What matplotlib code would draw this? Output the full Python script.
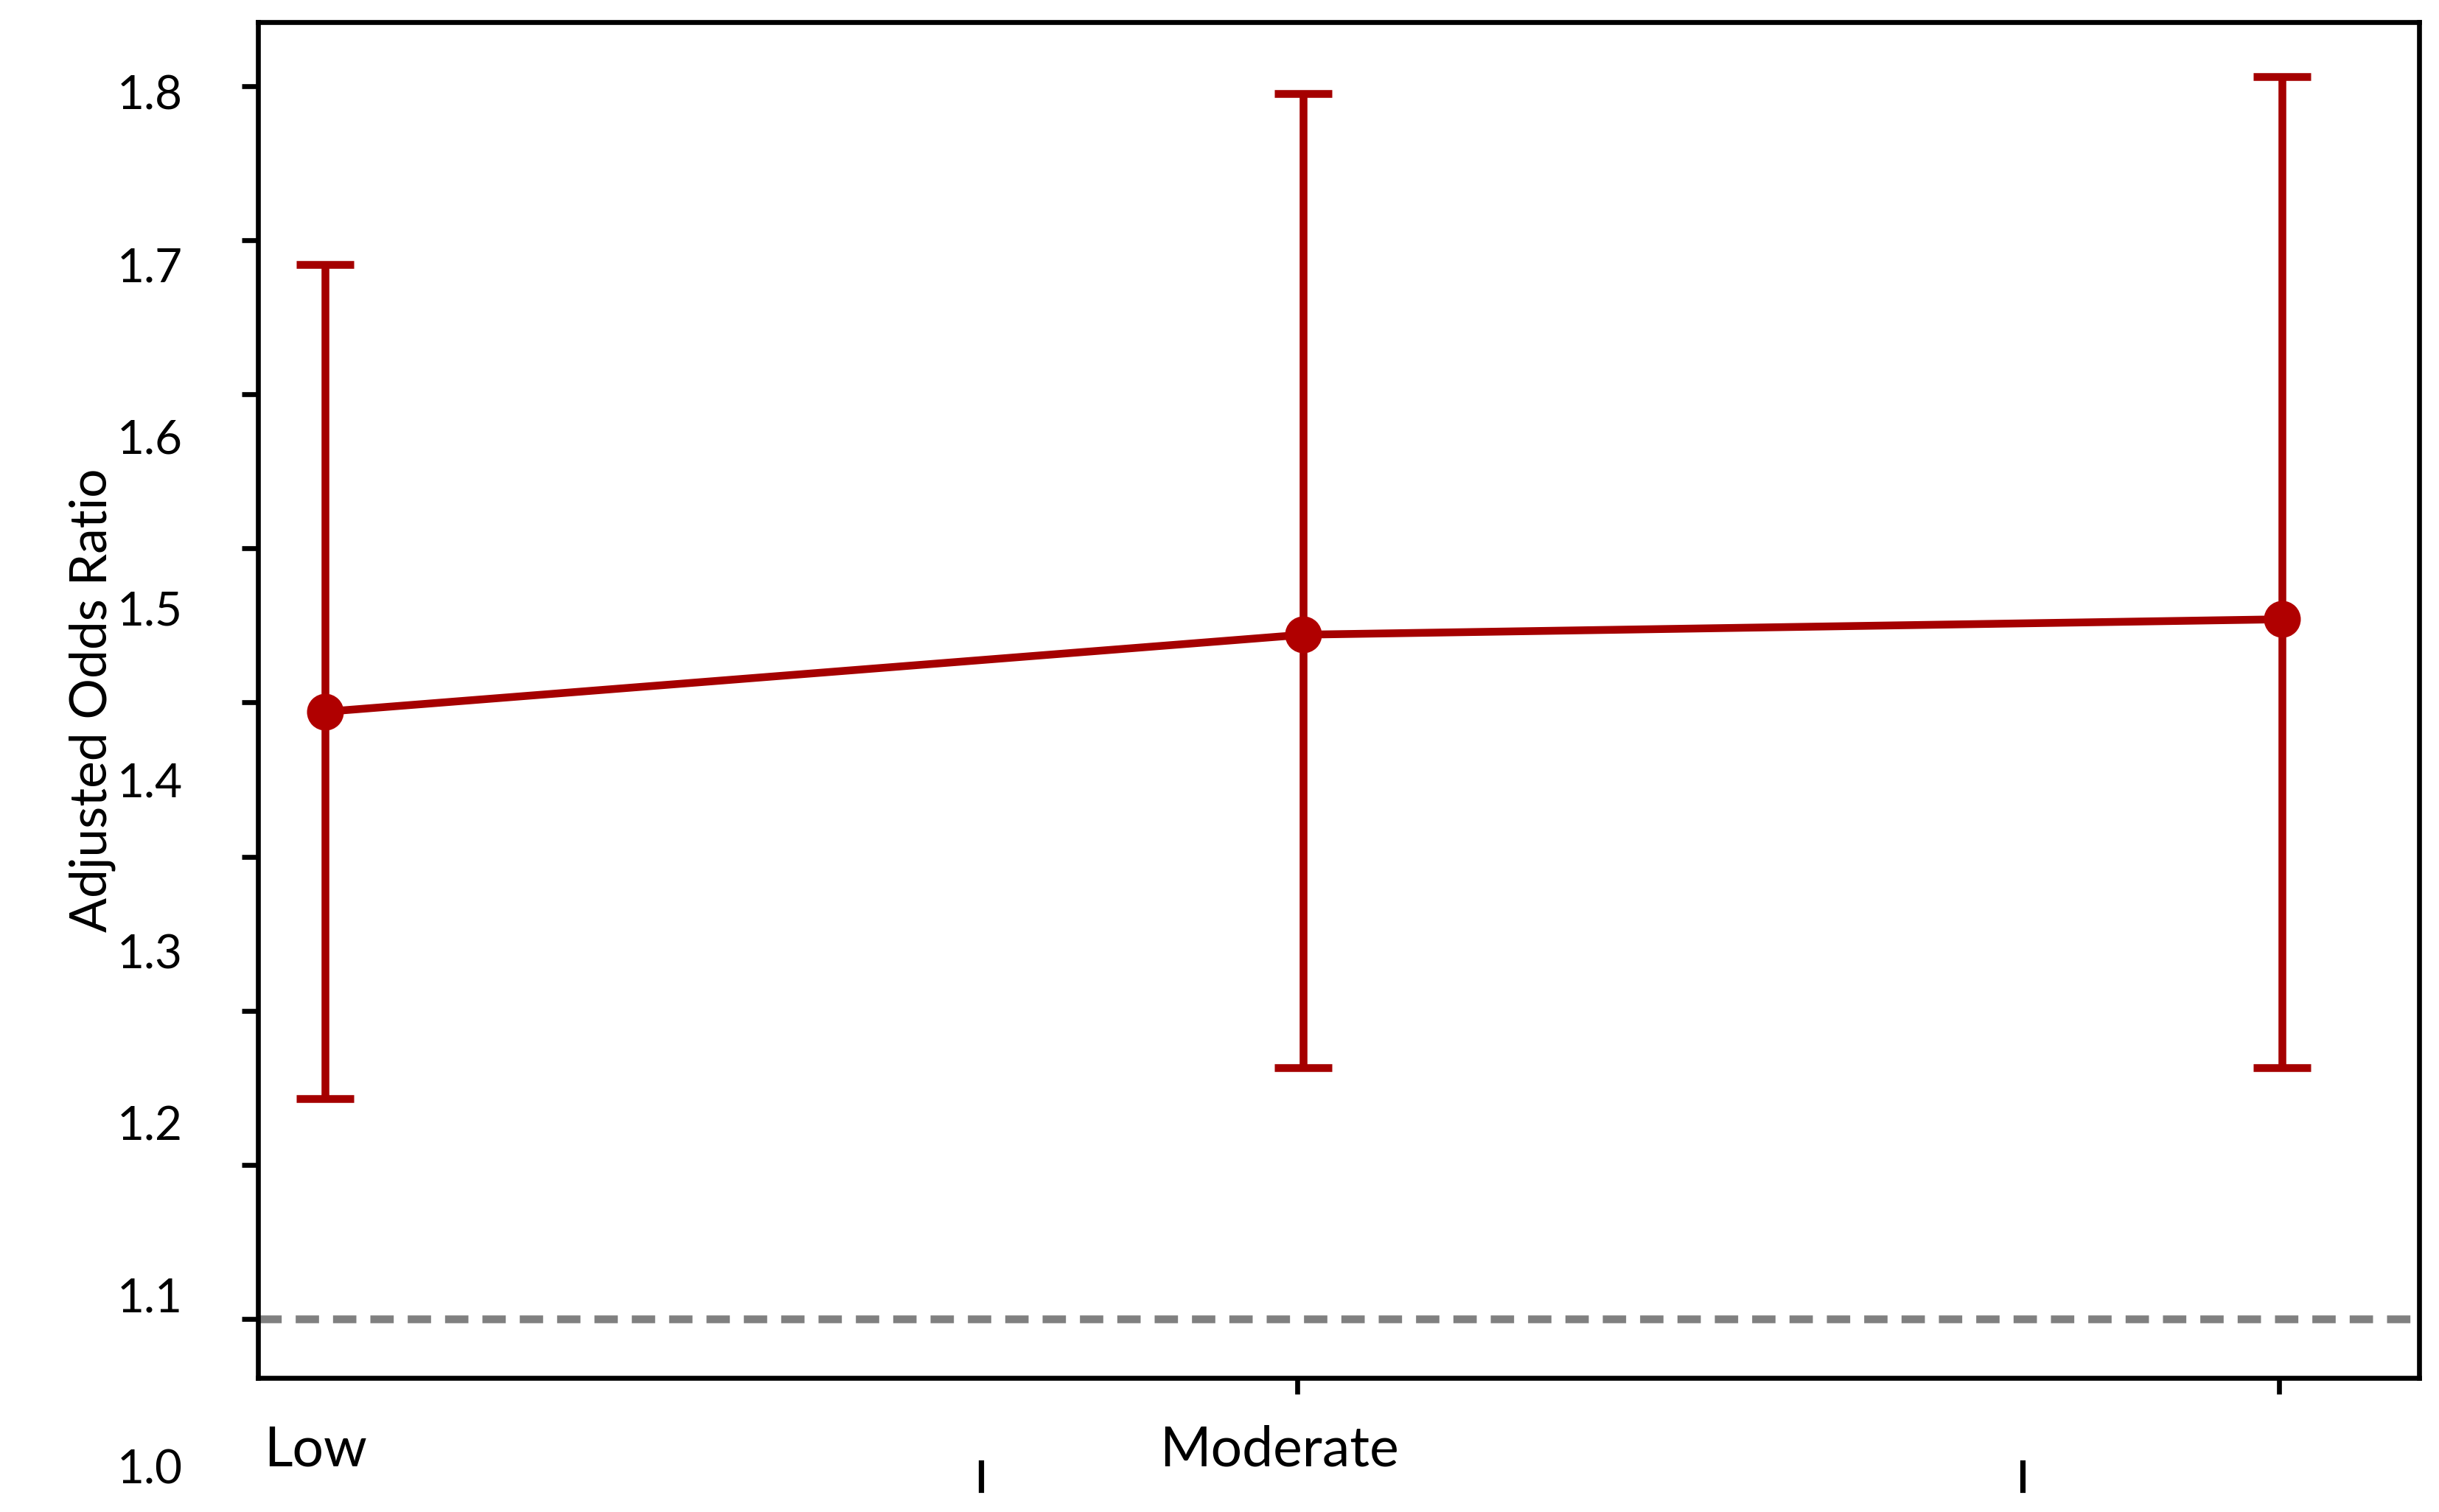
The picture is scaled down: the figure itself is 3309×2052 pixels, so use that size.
import matplotlib
matplotlib.use("Agg")
import matplotlib.pyplot as plt

plt.rcParams['font.family'] = ['Lato', 'DejaVu Sans']

# data
levels = ["Low", "Moderate", "High"]
odds = [1.394, 1.444, 1.454]
ci_low = [1.143, 1.163, 1.163]
ci_high = [1.684, 1.795, 1.806]
ref_line = 1.0
ytick_vals = [1.0, 1.1, 1.2, 1.3, 1.4, 1.5, 1.6, 1.7, 1.8]
ytick_texts = ["1.0", "1.1", "1.2", "1.3", "1.4", "1.5", "1.6", "1.7", "1.8"]

red = "#a50000"

fig = plt.figure(figsize=(16.545, 10.26), dpi=200)
ax = fig.add_axes([0.1059, 0.0885, 0.8858, 0.8971])

x = list(range(len(levels)))
yerr = [[o - l for o, l in zip(odds, ci_low)], [h - o for o, h in zip(odds, ci_high)]]
ax.errorbar(x, odds, yerr=yerr, color=red, lw=3.8, elinewidth=3.8, capsize=14,
            capthick=3.8, marker="o", ms=17, mfc="#b00000", mec="#b00000", zorder=3)
ax.axhline(ref_line, color="#808080", lw=3.8, ls=(0, (3, 1.8)), zorder=2)

ax.set_xlim(-0.068, 2.14)
ax.set_ylim(0.9617, 1.8416)

# y ticks without labels; labels drawn with a slightly larger spacing (as in the source)
ax.set_yticks(ytick_vals)
ax.set_yticklabels([])
for i, t in enumerate(ytick_texts[::-1]):
    y_disp = 62 + i * 110.4
    y_data = 1.0 + (848 - y_disp) / 991
    ax.text(-0.145, y_data, t, ha="right", va="center", fontsize=23, clip_on=False)

ax.set_xticks([0.994, 1.997])
ax.set_xticklabels([])
ax.tick_params(axis="both", direction="out", length=8, width=2.4)

# x labels (misplaced, as in the reference)
ax.text(-0.0095, 0.915, levels[0], ha="center", va="center", fontsize=27, clip_on=False)
ax.text(0.975, 0.915, levels[1], ha="center", va="center", fontsize=27, clip_on=False)
for xs in [0.671, 1.735]:
    ax.plot([xs, xs], [0.889, 0.907], color="black", lw=2.6, clip_on=False)

ax.set_ylabel("Adjusted Odds Ratio", fontsize=25, labelpad=58)

for s in ax.spines.values():
    s.set_linewidth(2.4)

fig.savefig("out.png", dpi=200)
